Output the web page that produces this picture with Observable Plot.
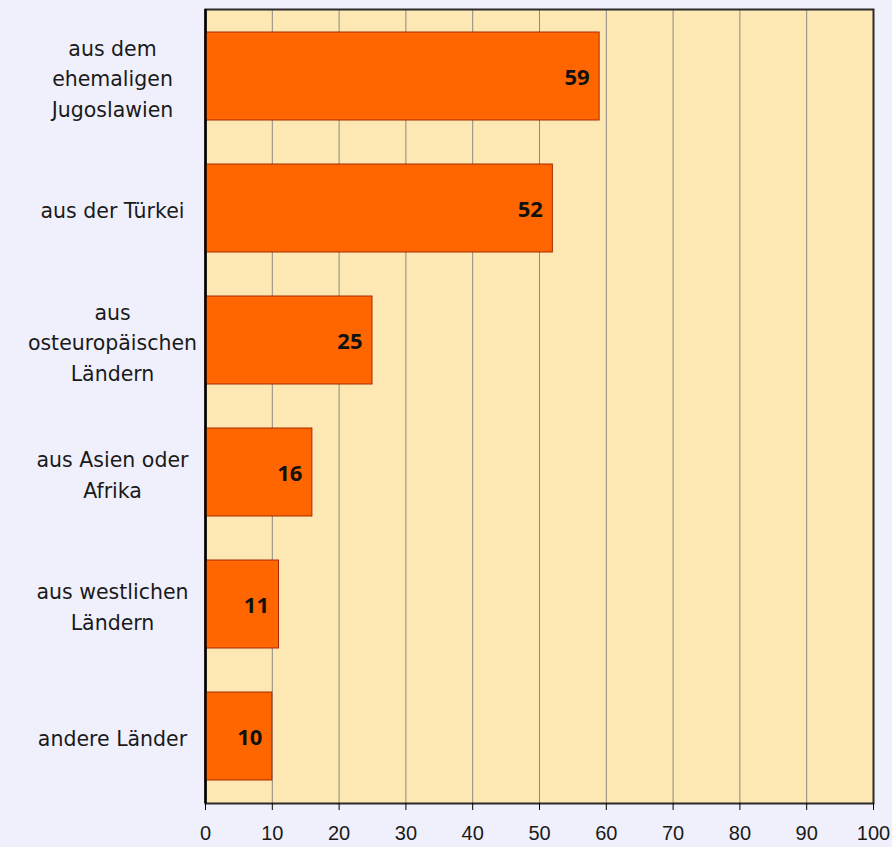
<!DOCTYPE html>
<html>
<head>
<meta charset="utf-8">
<script src="https://cdn.jsdelivr.net/npm/d3@7"></script>
<script src="https://cdn.jsdelivr.net/npm/@observablehq/plot@0.6"></script>
<style>
  html, body { margin: 0; padding: 0; background: #f0f0fd; }
  #chart svg { display: block; }
</style>
</head>
<body>
<div id="chart"></div>
<script>
const categories = [
  "aus dem\nehemaligen\nJugoslawien",
  "aus der Türkei",
  "aus\nosteuropäischen\nLändern",
  "aus Asien oder\nAfrika",
  "aus westlichen\nLändern",
  "andere Länder"
];
const values = [59, 52, 25, 16, 11, 10];
const xTicks = [0, 10, 20, 30, 40, 50, 60, 70, 80, 90, 100];
const gridTicks = [10, 20, 30, 40, 50, 60, 70, 80, 90];

const data = categories.map((c, i) => ({category: c, value: values[i]}));

const chart = Plot.plot({
  width: 892,
  height: 847,
  marginLeft: 205,
  marginRight: 19,
  marginTop: 9,
  marginBottom: 44,
  style: {background: "#f0f0fd", color: "#1a1a1a"},
  x: {domain: [0, 100]},
  y: {domain: categories, paddingInner: 0.335, paddingOuter: 0.167},
  marks: [
    Plot.frame({fill: "#fde8b3", stroke: "none"}),
    Plot.ruleX(gridTicks, {stroke: "#8a8a80", strokeWidth: 1}),
    Plot.frame({stroke: "#2a2a2a", strokeWidth: 2}),
    Plot.barX(data, {y: "category", x: "value", fill: "#ff6600", stroke: "#a82800", strokeWidth: 1}),
    Plot.text(data, {
      y: "category", x: "value", text: d => String(d.value),
      textAnchor: "end", dx: -10, dy: 1,
      fontFamily: "Open Sans", fontWeight: 700, fontSize: 22, letterSpacing: "1.5px", fill: "#111"
    }),
    Plot.ruleX([0], {stroke: "#000", strokeWidth: 2.5}),
    Plot.axisX({
      ticks: xTicks, tickSize: 7, tickPadding: 15, label: null,
      fontFamily: "Liberation Sans", fontSize: 20, stroke: "#000", letterSpacing: "-1px"
    }),
    Plot.axisY({
      tickSize: 0, label: null, textAnchor: "middle", dx: -84,
      fontFamily: "DejaVu Sans", fontSize: 20.5, lineHeight: 1.5
    })
  ]
});
document.getElementById("chart").appendChild(chart);
</script>
</body>
</html>
